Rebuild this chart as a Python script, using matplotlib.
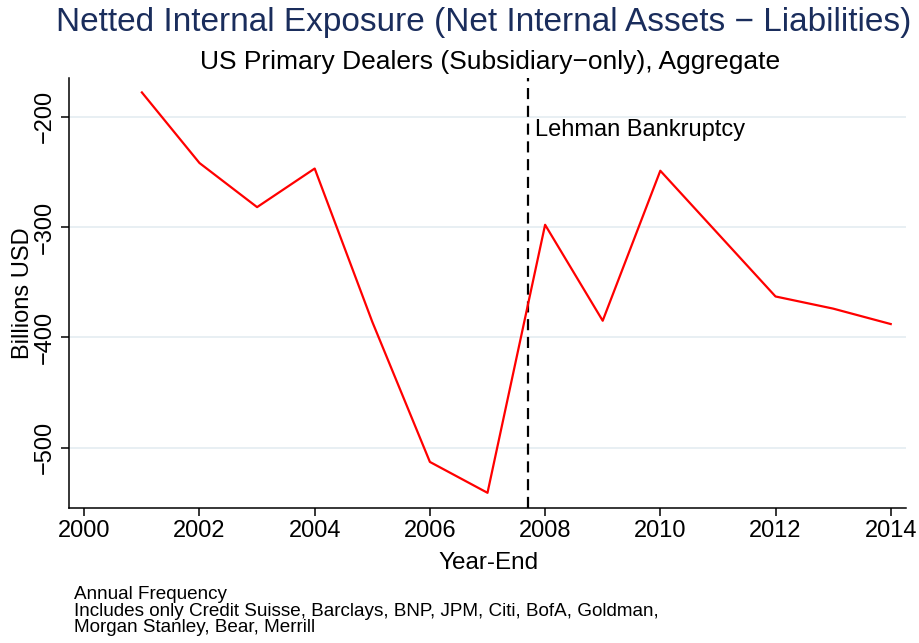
import matplotlib
matplotlib.use("Agg")
import matplotlib.pyplot as plt

plt.rcParams['font.family'] = ['Liberation Sans', 'DejaVu Sans']

# Aggregate netted internal exposure, billions USD, year-end
years = [2001, 2002, 2003, 2004, 2005, 2006, 2007,
         2008, 2009, 2010, 2011, 2012, 2013, 2014]
exposure = [-178, -242, -282, -247, -386, -513, -541,
            -298, -385, -249, -306, -363, -374, -388]

lehman_x = 2007.7
x_ticks = [2000, 2002, 2004, 2006, 2008, 2010, 2012, 2014]
y_ticks = [-500, -400, -300, -200]

W, H = 919, 643
fig = plt.figure(figsize=(W / 100, H / 100), dpi=100)
left, right, top, bottom = 69.3, 905.7, 78.3, 507.7
ax = fig.add_axes([left / W, 1 - bottom / H, (right - left) / W, (bottom - top) / H])

ax.plot(years, exposure, color='#ff0000', lw=1.6, zorder=3)
ax.axvline(lehman_x, color='black', lw=1.6, ls=(0, (5, 3)), zorder=2)
ax.text(lehman_x + 0.13, -212, 'Lehman Bankruptcy', fontsize=17,
        va='center', ha='left', color='black')

ax.set_xlim(1999.74, 2014.26)
ax.set_ylim(-554.5, -165.2)
ax.set_xticks(x_ticks)
ax.set_yticks(y_ticks)
ax.set_yticklabels([f'\u2212{abs(v)}' for v in y_ticks], rotation=90, va='center')
ax.tick_params(axis='both', labelsize=17, length=6, width=1.1, colors='black')
ax.tick_params(axis='y', pad=4)
ax.tick_params(axis='x', pad=3)
ax.grid(axis='y', color='#e8eff3', lw=1.4, zorder=0)
for s in ['top', 'right']:
    ax.spines[s].set_visible(False)
for s in ['left', 'bottom']:
    ax.spines[s].set_linewidth(1.1)

fig.text(488 / W, 1 - 563 / H, 'Year-End', fontsize=17.5, ha='center', va='center')
fig.text(23 / W, 1 - 293 / H, 'Billions USD', fontsize=17, rotation=90,
         ha='center', va='center')

fig.text(484 / W, 1 - 22 / H,
         'Netted Internal Exposure (Net Internal Assets \u2212 Liabilities)',
         fontsize=24, color='#1a2d5c', ha='center', va='center')
fig.text(490 / W, 1 - 62 / H,
         'US Primary Dealers (Subsidiary\u2212only), Aggregate',
         fontsize=19, color='black', ha='center', va='center')

fig.text(74 / W, 1 - 611 / H,
         'Annual Frequency\nIncludes only Credit Suisse, Barclays, BNP, JPM, Citi, BofA, Goldman,\nMorgan Stanley, Bear, Merrill',
         fontsize=13.6, ha='left', va='center', linespacing=0.98)

fig.savefig('out.png', dpi=100, facecolor='white')
